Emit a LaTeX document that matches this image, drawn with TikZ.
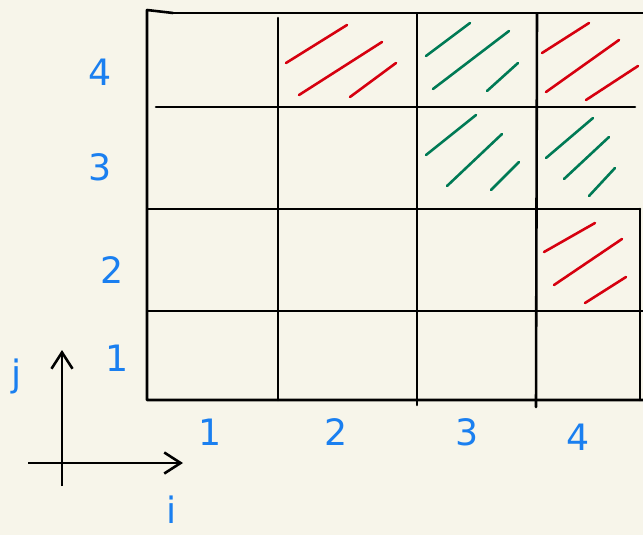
\documentclass[tikz,border=0pt]{standalone}
\usepackage{fontspec}
\setmainfont{DejaVu Sans}
\usetikzlibrary{arrows.meta}

\definecolor{paper}{HTML}{F7F5EA}
\definecolor{inkblue}{HTML}{1A7FF0}
\definecolor{inkred}{HTML}{D6000F}
\definecolor{inkgreen}{HTML}{007A55}

\begin{document}
\begin{tikzpicture}[
  x=0.03cm, y=-0.03cm,
  gridline/.style={line width=2.2pt, line cap=round, line join=round},
  axis/.style={line width=2.2pt, -{Straight Barb[length=14pt, width=18pt, line width=2.2pt]}},
  redhatch/.style={inkred, line width=2.2pt, line cap=round},
  greenhatch/.style={inkgreen, line width=2.2pt, line cap=round},
  num/.style={text=inkblue, font=\fontsize{31}{36}\selectfont, inner sep=0pt},
]
% paper
\fill[paper] (0,0) rectangle (643,535);
\useasboundingbox (0,0) rectangle (643,535);

% grid
\draw[gridline] (173,13) -- (147,10) -- (147,400) -- (643,400);
\draw[gridline] (173,13) -- (643,13);
\draw[gridline] (156,107) -- (635,107);
\draw[gridline] (148,209) -- (640,209);
\draw[gridline] (148,311) -- (643,311);
\draw[gridline] (278,18) -- (278,400);
\draw[gridline] (417,14) -- (417,405);
\draw[gridline] (537,14) -- (536,407);
\draw[gridline] (640,209) -- (640,400);

% hatching, row 4
\draw[redhatch] (286,63) -- (347,25);
\draw[redhatch] (299,95) -- (382,42);
\draw[redhatch] (350,97) -- (396,63);
\draw[greenhatch] (426,56) -- (470,23);
\draw[greenhatch] (433,89) -- (509,31);
\draw[greenhatch] (487,91) -- (518,63);
\draw[redhatch] (542,53) -- (589,23);
\draw[redhatch] (546,92) -- (619,40);
\draw[redhatch] (586,100) -- (638,66);
% row 3
\draw[greenhatch] (426,155) -- (476,115);
\draw[greenhatch] (447,186) -- (502,134);
\draw[greenhatch] (491,190) -- (519,162);
\draw[greenhatch] (546,158) -- (593,118);
\draw[greenhatch] (564,179) -- (609,137);
\draw[greenhatch] (589,196) -- (615,168);
% row 2
\draw[redhatch] (544,252) -- (595,223);
\draw[redhatch] (554,285) -- (622,239);
\draw[redhatch] (585,303) -- (626,277);

% row numbers
\node[num] (j4) at (100,72)  {4};
\node[num] (j3) at (100,167) {3};
\node[num] (j2) at (112,270) {2};
\node[num] (j1) at (117,358) {1};
% column numbers
\node[num] (i1) at (210,432) {1};
\node[num] (i2) at (336,432) {2};
\node[num] (i3) at (467,432) {3};
\node[num] (i4) at (578,437) {4};

% axes
\coordinate (ybot)   at (62,486);
\coordinate (ytop)   at (62,350);
\coordinate (xleft)  at (28,463);
\coordinate (xright) at (183,463);
\draw[axis] (ybot) -- (ytop);
\draw[axis] (xleft) -- (xright);
\node[num] (jlab) at (17,376) {j};
\node[num] (ilab) at (172,510) {i};
\end{tikzpicture}
\end{document}
